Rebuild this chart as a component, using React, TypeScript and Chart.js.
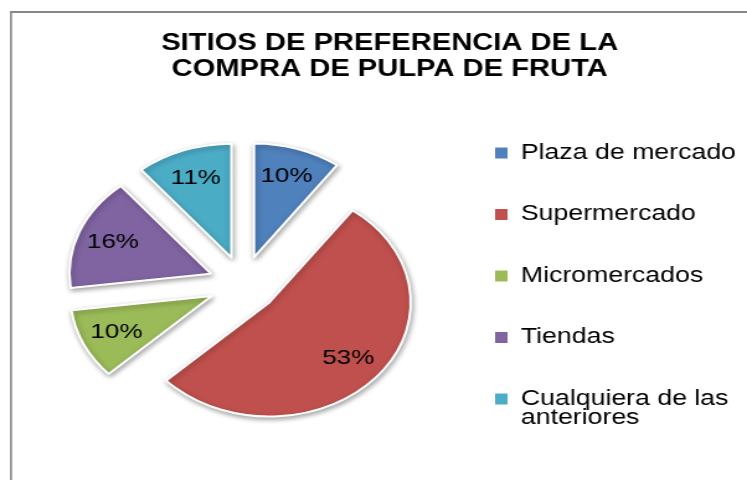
import React, { useEffect, useRef } from "react";
import { Chart, registerables } from "chart.js";

Chart.register(...registerables);

// ---- data ----
const categories = [
  "Plaza de mercado",
  "Supermercado",
  "Micromercados",
  "Tiendas",
  "Cualquiera de las anteriores",
];
const legendLines: (string | string[])[] = [
  "Plaza de mercado",
  "Supermercado",
  "Micromercados",
  "Tiendas",
  ["Cualquiera de las", "anteriores"],
];
const percentages = [10, 53, 10, 16, 11];
const sliceColors = ["#4F81BD", "#C0504D", "#9BBB59", "#8064A2", "#4BACC6"];
const titleLines = ["SITIOS DE PREFERENCIA DE LA", "COMPRA DE PULPA DE FRUTA"];

// ---- style ----
const FONT = "'Liberation Sans', Arial, Helvetica, sans-serif";
const LOGICAL_W = 602;
const H = 480;
const DISPLAY_W = 747;
const EXPLODE = 28;
const RADIUS = 114;
const LABEL_POS = 0.745;

const piePlugin = {
  id: "excelPie",
  afterDatasetUpdate(chart: any, args: any) {
    args.meta.data.forEach((arc: any) => {
      const mid = (arc.startAngle + arc.endAngle) / 2;
      arc.x += Math.cos(mid) * EXPLODE;
      arc.y += Math.sin(mid) * EXPLODE;
    });
  },
  beforeDraw(chart: any) {
    const ctx = chart.ctx;
    ctx.save();
    ctx.fillStyle = "#878787";
    ctx.fillRect(8.06, 11, 1.61, H - 11);
    ctx.fillRect(8.06, 11, LOGICAL_W, 2);
    ctx.restore();
  },
  beforeDatasetsDraw(chart: any) {
    const ctx = chart.ctx;
    ctx.save();
    ctx.shadowColor = "rgba(0,0,0,0.35)";
    ctx.shadowBlur = 5;
    ctx.shadowOffsetX = 1;
    ctx.shadowOffsetY = 2;
  },
  afterDatasetsDraw(chart: any) {
    const ctx = chart.ctx;
    ctx.restore();
    const meta = chart.getDatasetMeta(0);
    ctx.save();
    ctx.font = `21px ${FONT}`;
    ctx.fillStyle = "#000";
    ctx.textAlign = "center";
    ctx.textBaseline = "middle";
    meta.data.forEach((arc: any, i: number) => {
      const mid = (arc.startAngle + arc.endAngle) / 2;
      const r = arc.outerRadius * LABEL_POS;
      ctx.fillText(`${percentages[i]}%`, arc.x + Math.cos(mid) * r, arc.y + Math.sin(mid) * r);
    });
    ctx.restore();
  },
};

export default function App() {
  const ref = useRef<HTMLCanvasElement | null>(null);

  useEffect(() => {
    if (!ref.current) return;
    const chart = new Chart(ref.current, {
      type: "pie",
      data: {
        labels: categories,
        datasets: [
          {
            data: percentages,
            backgroundColor: sliceColors,
            borderColor: "#ffffff",
            borderWidth: 2,
            borderJoinStyle: "round",
          } as any,
        ],
      },
      options: {
        responsive: false,
        animation: false,
        devicePixelRatio: 1,
        radius: RADIUS,
        layout: { padding: { left: 33, right: 7, top: 0, bottom: 7 } },
        plugins: {
          title: {
            display: true,
            text: titleLines,
            color: "#000",
            font: { family: FONT, size: 23.5, weight: "bold", lineHeight: 1.094 },
            padding: { top: 30.5, bottom: 13.1 },
          },
          legend: {
            position: "right",
            align: "center",
            fullSize: false,
            maxWidth: 236,
            labels: {
              boxWidth: 10,
              boxHeight: 11,
              padding: 40,
              color: "#000",
              font: { family: FONT, size: 21.5, lineHeight: 0.872 },
              generateLabels: () =>
                legendLines.map((text, i) => ({
                  text: text as any,
                  fillStyle: sliceColors[i],
                  strokeStyle: sliceColors[i],
                  lineWidth: 0,
                  fontColor: "#000",
                  hidden: false,
                  index: i,
                })),
            },
          },
          tooltip: { enabled: false },
        },
      } as any,
      plugins: [piePlugin],
    });
    return () => chart.destroy();
  }, []);

  return (
    <div style={{ position: "absolute", left: 0, top: 0, width: DISPLAY_W, height: H, background: "#fff" }}>
      <canvas
        ref={ref}
        width={LOGICAL_W}
        height={H}
        style={{ width: `${DISPLAY_W}px`, height: `${H}px`, display: "block" }}
      />
    </div>
  );
}
